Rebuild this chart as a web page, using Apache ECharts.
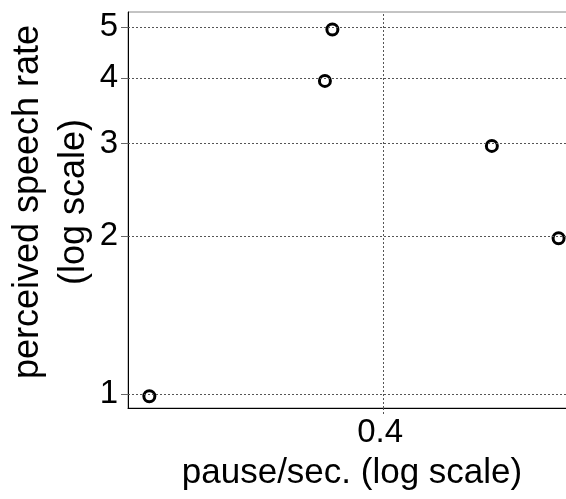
<!DOCTYPE html>
<html>
<head>
<meta charset="utf-8">
<script src="https://cdn.jsdelivr.net/npm/echarts@6/dist/echarts.min.js"></script>
<style>
  html, body { margin: 0; padding: 0; background: #fff; }
  #chart { width: 566px; height: 499px; }
</style>
</head>
<body>
<div id="chart"></div>
<script>
// pause rate (x) against perceived speech rate (y), both on log axes
var pauseRate = [0.312, 0.376, 0.379, 0.449, 0.482];
var perceivedRate = [0.99, 3.95, 4.95, 2.97, 1.98];

var xTicks = [0.4];
var yTicks = [1, 2, 3, 4, 5];

var points = pauseRate.map(function (x, i) { return [x, perceivedRate[i]]; });

var FONT = 'Liberation Sans';
var gridLine = { color: '#555', width: 1, type: [2, 2] };

var chart = echarts.init(document.getElementById('chart'), null, { renderer: 'canvas' });

chart.setOption({
    animation: false,
    backgroundColor: '#fff',
    grid: {
        left: 128, right: -10, top: 12, bottom: 91,
        outerBoundsMode: 'none',
        containLabel: false,
        show: true, borderColor: '#888', borderWidth: 1
    },
    xAxis: {
        type: 'log',
        min: 0.305,
        max: 0.491,
        name: 'pause/sec. (log scale)',
        nameLocation: 'middle',
        nameGap: 48,
        nameMoveOverlap: false,
        nameTextStyle: { fontFamily: FONT, fontSize: 35, color: '#000' },
        axisLine: { lineStyle: { color: '#000', width: 1 } },
        axisTick: { show: true, customValues: xTicks, length: 8, lineStyle: gridLine },
        axisLabel: {
            customValues: xTicks,
            fontFamily: FONT, fontSize: 33, color: '#000', margin: 8,
            padding: [0, 6, 0, 0]
        },
        splitLine: { show: false }
    },
    yAxis: {
        type: 'log',
        min: 0.9404,
        max: 5.344,
        name: 'perceived speech rate\n(log scale)',
        nameLocation: 'middle',
        nameRotate: 90,
        nameGap: 31,
        nameMoveOverlap: false,
        nameTextStyle: {
            fontFamily: FONT, fontSize: 36, color: '#000', lineHeight: 46,
            padding: [0, 0, 0, 16]
        },
        axisLine: { lineStyle: { color: '#000', width: 1 } },
        axisTick: { show: true, customValues: yTicks, length: 7, lineStyle: { color: '#666', width: 1 } },
        axisLabel: {
            customValues: yTicks,
            fontFamily: FONT, fontSize: 33, color: '#000', margin: 10
        },
        splitLine: { show: false }
    },
    series: [{
        type: 'scatter',
        data: points,
        symbol: 'circle',
        symbolSize: 11,
        itemStyle: { color: 'rgba(0,0,0,0)', borderColor: '#000', borderWidth: 3, opacity: 1 },
        markLine: {
            silent: true,
            symbol: 'none',
            label: { show: false },
            lineStyle: gridLine,
            data: yTicks.map(function (v) { return { yAxis: v }; })
                .concat(xTicks.map(function (v) { return { xAxis: v }; }))
        },
        z: 3
    }]
});
</script>
</body>
</html>
